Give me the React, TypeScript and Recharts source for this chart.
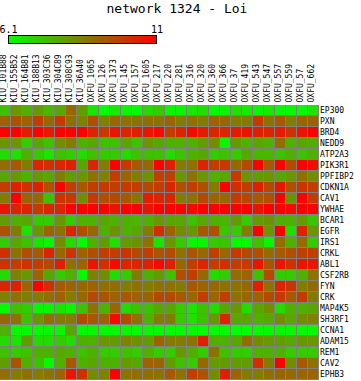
import { BarChart, Bar, Cell, XAxis, YAxis, CartesianGrid } from 'recharts';

// sample columns (top labels)
const SAMPLES = [
  'KIU_101B88', 'KIU_155B52', 'KIU_164B81', 'KIU_188B13', 'KIU_303C36', 'KIU_304C89',
  'KIU_308C93', 'KIU_36A40', 'OXFU_1065', 'OXFU_126', 'OXFU_1373', 'OXFU_145',
  'OXFU_157', 'OXFU_1605', 'OXFU_217', 'OXFU_220', 'OXFU_281', 'OXFU_316', 'OXFU_320',
  'OXFU_360', 'OXFU_366', 'OXFU_37', 'OXFU_419', 'OXFU_543', 'OXFU_547', 'OXFU_557',
  'OXFU_559', 'OXFU_57', 'OXFU_662',
];

// genes, top to bottom
const GENES = [
  'EP300', 'PXN', 'BRD4', 'NEDD9', 'ATP2A3', 'PIK3R1', 'PPFIBP2', 'CDKN1A', 'CAV1',
  'YWHAE', 'BCAR1', 'EGFR', 'IRS1', 'CRKL', 'ABL1', 'CSF2RB', 'FYN', 'CRK', 'MAP4K5',
  'SH3RF1', 'CCNA1', 'ADAM15', 'REM1', 'CAV2', 'EPHB3',
];

// colour scale limits
const SCALE_MIN = 6.1;
const SCALE_MAX = 11;

// expression values, one row per gene (same order as GENES)
const EXPR: number[][] = [
  [7.3, 8.1, 7.6, 8.0, 7.5, 7.8, 9.0, 8.0, 6.6, 6.1, 6.5, 6.3, 6.2, 6.8, 7.1, 6.3, 6.3, 6.5, 6.7, 6.2, 6.3, 6.7, 6.5, 6.3, 6.5, 6.2, 6.2, 6.2, 6.6],
  [9.1, 9.4, 9.1, 9.8, 9.0, 9.9, 8.9, 8.5, 9.5, 8.5, 9.0, 8.8, 8.8, 8.9, 8.8, 9.1, 8.6, 8.8, 8.6, 9.1, 9.0, 8.6, 8.6, 9.9, 8.8, 9.3, 8.6, 9.1, 9.1],
  [11.0, 11.0, 10.4, 11.0, 10.5, 11.0, 11.0, 11.0, 10.3, 9.9, 10.6, 10.3, 10.4, 10.6, 10.8, 9.8, 10.3, 10.8, 10.5, 10.3, 10.3, 10.5, 10.6, 10.4, 10.3, 10.5, 10.0, 10.6, 11.0],
  [8.1, 8.1, 7.1, 7.8, 7.3, 8.3, 8.6, 7.6, 7.8, 7.3, 7.3, 7.8, 7.3, 8.1, 7.8, 7.6, 7.6, 7.6, 8.0, 8.3, 6.3, 8.0, 7.6, 7.8, 7.6, 8.9, 7.6, 7.8, 7.7],
  [6.8, 6.7, 7.6, 7.1, 6.6, 7.3, 7.1, 6.8, 7.3, 7.1, 7.1, 6.8, 7.3, 7.3, 7.3, 6.8, 7.2, 7.6, 7.8, 7.1, 7.3, 7.1, 7.8, 7.5, 7.5, 7.3, 7.6, 7.3, 7.6],
  [8.9, 9.3, 8.6, 10.3, 10.1, 10.3, 10.4, 7.8, 10.3, 8.6, 11.0, 9.9, 9.3, 9.0, 11.0, 10.5, 8.6, 8.8, 10.3, 9.8, 9.9, 9.0, 9.6, 11.0, 9.3, 11.0, 9.6, 11.0, 10.8],
  [7.8, 8.1, 7.6, 8.1, 7.8, 8.6, 8.0, 8.1, 8.8, 8.5, 9.8, 9.1, 8.6, 8.2, 9.8, 9.8, 8.1, 8.8, 8.1, 7.6, 7.8, 9.9, 8.1, 8.0, 8.1, 7.8, 8.1, 8.8, 8.3],
  [9.8, 10.4, 10.1, 10.4, 9.5, 11.0, 9.8, 9.3, 9.8, 9.9, 9.8, 9.9, 9.8, 9.6, 9.8, 10.3, 9.5, 9.8, 9.5, 8.6, 11.0, 10.1, 9.8, 10.4, 9.6, 10.6, 9.5, 10.0, 9.8],
  [8.6, 11.0, 9.1, 9.0, 7.3, 10.0, 9.9, 8.3, 9.9, 9.5, 9.6, 9.3, 8.8, 10.4, 10.3, 10.3, 8.6, 8.8, 9.6, 9.1, 9.0, 9.9, 9.6, 9.3, 9.5, 11.0, 8.2, 11.0, 9.9],
  [10.6, 10.3, 10.3, 9.9, 10.3, 10.3, 11.0, 11.0, 11.0, 11.0, 10.6, 11.0, 11.0, 10.6, 11.0, 11.0, 11.0, 10.8, 11.0, 11.0, 11.0, 11.0, 11.0, 10.6, 11.0, 11.0, 10.8, 11.0, 11.0],
  [8.0, 7.6, 7.8, 7.1, 7.1, 8.1, 7.1, 7.6, 7.6, 7.8, 7.6, 7.6, 7.5, 7.6, 8.1, 7.8, 7.8, 7.3, 7.8, 7.6, 7.5, 8.0, 7.1, 8.0, 8.2, 7.6, 7.6, 8.0, 7.2],
  [9.4, 8.6, 6.7, 8.1, 9.1, 8.8, 10.3, 9.5, 9.0, 7.6, 8.2, 7.6, 7.8, 8.6, 10.1, 9.1, 8.3, 8.1, 9.3, 9.4, 7.2, 7.1, 8.6, 11.0, 8.1, 11.0, 6.8, 10.3, 8.1],
  [7.1, 7.8, 7.3, 6.6, 6.3, 8.3, 6.8, 6.2, 7.6, 8.0, 6.7, 8.0, 8.2, 8.8, 6.6, 8.1, 7.1, 6.3, 6.3, 7.1, 7.2, 6.2, 6.3, 7.3, 6.3, 8.9, 7.6, 8.9, 7.1],
  [10.1, 8.8, 9.5, 9.3, 10.3, 9.0, 10.0, 9.1, 9.5, 9.8, 9.8, 10.0, 9.6, 9.8, 9.4, 9.6, 8.8, 9.4, 9.0, 9.8, 9.0, 9.9, 9.6, 9.5, 8.9, 9.3, 9.5, 9.8, 9.8],
  [10.0, 9.8, 10.1, 9.8, 9.6, 10.4, 8.8, 9.1, 10.6, 10.1, 10.8, 10.3, 10.3, 10.4, 10.8, 10.4, 9.0, 9.8, 10.3, 9.8, 10.1, 9.8, 9.9, 10.6, 9.4, 10.6, 10.1, 10.6, 10.6],
  [6.8, 8.5, 8.1, 9.1, 7.8, 7.1, 7.6, 6.2, 8.5, 8.3, 6.8, 7.1, 8.6, 7.6, 8.0, 7.3, 9.5, 9.8, 9.0, 6.8, 7.1, 8.9, 9.1, 7.3, 9.6, 7.1, 7.1, 7.6, 8.8],
  [10.3, 10.4, 9.0, 11.0, 10.1, 9.3, 9.1, 9.0, 9.1, 8.9, 8.9, 8.6, 8.8, 8.6, 8.8, 8.8, 8.6, 9.3, 9.1, 9.0, 8.8, 8.8, 9.0, 10.4, 8.8, 10.3, 10.0, 8.6, 9.0],
  [8.5, 8.8, 8.6, 8.6, 8.9, 9.1, 8.6, 9.0, 9.6, 9.4, 9.1, 9.3, 9.1, 9.1, 9.6, 9.6, 9.3, 9.0, 9.8, 9.0, 9.8, 8.8, 9.0, 9.1, 9.6, 9.9, 9.3, 9.9, 8.6],
  [6.2, 7.3, 7.1, 6.3, 6.3, 6.6, 6.3, 7.3, 8.8, 7.6, 9.0, 6.8, 7.3, 7.3, 7.8, 7.8, 7.1, 6.6, 7.3, 6.8, 7.8, 8.1, 6.8, 7.8, 8.3, 6.8, 7.6, 7.6, 7.8],
  [9.0, 8.8, 7.3, 8.1, 8.9, 8.6, 8.6, 9.6, 9.3, 9.1, 10.8, 9.6, 8.8, 7.6, 8.6, 8.6, 7.1, 6.7, 7.3, 8.1, 10.3, 7.8, 7.8, 7.6, 7.8, 8.3, 7.8, 8.3, 8.5],
  [7.6, 6.2, 6.2, 6.2, 6.3, 6.3, 7.8, 6.2, 6.3, 6.2, 6.2, 6.3, 6.2, 6.3, 6.2, 6.2, 6.2, 6.2, 6.1, 6.2, 6.2, 6.1, 6.1, 6.2, 6.2, 6.3, 6.3, 6.2, 6.2],
  [6.8, 6.6, 8.0, 6.8, 6.8, 7.1, 6.8, 7.6, 7.6, 8.1, 8.0, 8.5, 8.2, 8.0, 9.1, 8.6, 8.6, 8.8, 10.4, 7.7, 7.6, 7.8, 8.9, 8.3, 8.1, 8.0, 7.8, 8.1, 8.1],
  [7.3, 7.1, 7.3, 7.6, 7.6, 7.8, 7.6, 7.3, 7.6, 7.1, 7.1, 7.3, 7.1, 7.6, 7.1, 7.1, 8.1, 7.7, 7.1, 8.8, 7.3, 7.1, 7.1, 7.6, 7.6, 7.6, 7.1, 7.1, 7.1],
  [8.0, 9.4, 7.6, 7.3, 6.2, 7.6, 9.3, 7.6, 7.8, 7.6, 7.6, 8.0, 7.8, 9.1, 9.1, 8.0, 7.3, 7.1, 9.0, 8.0, 8.0, 8.0, 8.0, 10.1, 8.6, 11.0, 8.3, 9.3, 8.8],
  [8.9, 8.6, 8.8, 8.6, 8.8, 9.1, 10.6, 10.1, 8.3, 8.5, 11.0, 8.8, 8.9, 8.9, 8.8, 9.3, 8.8, 9.8, 9.4, 8.3, 10.4, 9.1, 8.6, 8.6, 8.9, 9.1, 9.0, 9.1, 9.1],
];

const MONO = '"DejaVu Sans Mono", monospace';

// green -> red linear scale
function heatColor(v: number) {
  let t = (v - SCALE_MIN) / (SCALE_MAX - SCALE_MIN);
  t = Math.max(0, Math.min(1, t));
  const r = Math.round(255 * t);
  const g = Math.round(255 * (1 - t));
  return `rgb(${r},${g},0)`;
}

// every cell is one unit tall in the stack; colour comes from EXPR
const chartData = SAMPLES.map((s) => {
  const row: any = { sample: s };
  GENES.forEach((g) => {
    row[g] = 1;
  });
  return row;
});

// stack bottom-up, so the last gene goes first
const stackOrder = GENES.map((g, i) => ({ gene: g, idx: i })).reverse();

const rowTicks = GENES.map((_, i) => GENES.length - i - 0.5);

const CellShape = (props: any) => {
  const { x, y, width, height, fill } = props;
  return <rect x={x} y={y} width={width - 1} height={height - 1} fill={fill} />;
};

const SampleTick = (props: any) => {
  const { x, payload } = props;
  return (
    <text
      transform={`translate(${x},102.5) rotate(-90)`}
      fontSize={8}
      fontFamily={MONO}
      textAnchor="start"
      fill="#000"
    >
      {payload.value}
    </text>
  );
};

const GeneTick = (props: any) => {
  const { y, payload } = props;
  return (
    <text x={320} y={y} dy="0.35em" fontSize={8} fontFamily={MONO} fill="#000">
      {GENES[Math.round(GENES.length - 0.5 - payload.value)]}
    </text>
  );
};

export default function App() {
  return (
    <div style={{ position: 'absolute', left: 0, top: 0, width: 361, height: 381, background: '#fff' }}>
      <BarChart
        width={361}
        height={381}
        data={chartData}
        margin={{ top: 0, right: 0, bottom: 1, left: 0 }}
        barCategoryGap={0}
        barGap={0}
      >
        <defs>
          <linearGradient id="heatScale" x1="0" y1="0" x2="1" y2="0">
            <stop offset="0%" stopColor={heatColor(SCALE_MIN)} />
            <stop offset="100%" stopColor={heatColor(SCALE_MAX)} />
          </linearGradient>
        </defs>
        <CartesianGrid fill="#808080" horizontal={false} vertical={false} />
        <XAxis
          dataKey="sample"
          orientation="top"
          height={105}
          interval={0}
          tickLine={false}
          axisLine={false}
          tick={<SampleTick />}
        />
        <YAxis
          type="number"
          orientation="right"
          width={42}
          domain={[0, GENES.length]}
          ticks={rowTicks}
          interval={0}
          tickLine={false}
          axisLine={false}
          tickSize={0}
          tickMargin={1}
          tick={<GeneTick />}
        />
        {stackOrder.map(({ gene, idx }) => (
          <Bar
            key={gene}
            dataKey={gene}
            stackId="heat"
            isAnimationActive={false}
            shape={<CellShape />}
          >
            {SAMPLES.map((s, j) => (
              <Cell key={s} fill={heatColor(EXPR[idx][j])} />
            ))}
          </Bar>
        ))}

        {/* title and colour key */}
        <text x={177} y={13} textAnchor="middle" fontSize={13} fontFamily={MONO} fill="#000">
          network 1324 - Loi
        </text>
        <text x={8.5} y={33} textAnchor="middle" fontSize={10} fontFamily={MONO} fill="#000">
          {SCALE_MIN}
        </text>
        <text x={157} y={33} textAnchor="middle" fontSize={10} fontFamily={MONO} fill="#000">
          {SCALE_MAX}
        </text>
        <rect x={8.5} y={35.5} width={148} height={8} fill="url(#heatScale)" stroke="#000" strokeWidth={1} />
      </BarChart>
    </div>
  );
}
